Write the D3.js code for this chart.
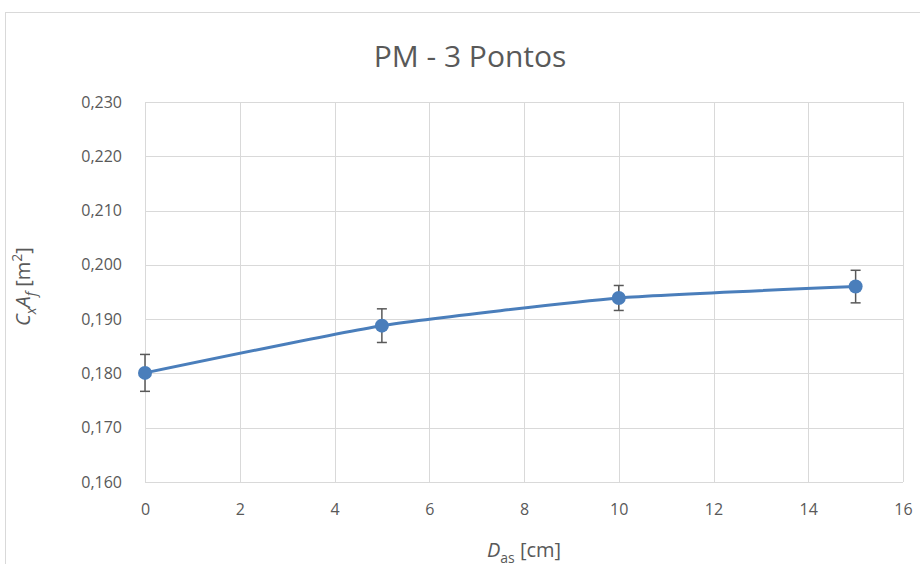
<!DOCTYPE html>
<html>
<head>
<meta charset="utf-8">
<script src="https://cdn.jsdelivr.net/npm/d3@7"></script>
<style>
  body { margin: 0; background: #fff; }
  text { font-family: "Open Sans", "Liberation Sans", sans-serif; fill: #595959; }
</style>
</head>
<body>
<div id="chart-area"></div>
<script>
var width = 920;
var height = 564;

// data
var distances = [0, 5, 10, 15];
var cxaf = [0.1801, 0.1888, 0.1939, 0.1960];
var errors = [0.0034, 0.0031, 0.0023, 0.0030];
var xTicks = [0, 2, 4, 6, 8, 10, 12, 14, 16];
var yTicks = [0.160, 0.170, 0.180, 0.190, 0.200, 0.210, 0.220, 0.230];

var margin = { left: 145, right: 17, top: 102, bottom: 82 };

var svg = d3.select("#chart-area")
  .append("svg")
  .attr("width", width)
  .attr("height", height);

// chart border
svg.append("rect")
  .attr("x", 5.5).attr("y", 12.5)
  .attr("width", 930).attr("height", 600)
  .attr("fill", "none")
  .attr("stroke", "#d9d9d9");

var x = d3.scaleLinear().domain([0, 16]).range([margin.left, width - margin.right]);
var y = d3.scaleLinear().domain([0.160, 0.230]).range([height - margin.bottom, margin.top]);

// gridlines
svg.selectAll(".vgrid")
  .data(xTicks)
  .enter().append("line")
  .attr("x1", function(d) { return Math.round(x(d)) + 0.5; })
  .attr("x2", function(d) { return Math.round(x(d)) + 0.5; })
  .attr("y1", y(0.230)).attr("y2", y(0.160))
  .attr("stroke", "#d9d9d9");

svg.selectAll(".hgrid")
  .data(yTicks)
  .enter().append("line")
  .attr("x1", x(0)).attr("x2", x(16))
  .attr("y1", function(d) { return Math.round(y(d)) + 0.5; })
  .attr("y2", function(d) { return Math.round(y(d)) + 0.5; })
  .attr("stroke", "#d9d9d9");

// axes
var fmt = function(d) { return d3.format(".3f")(d).replace(".", ","); };

var xAxis = svg.append("g")
  .attr("transform", "translate(0," + y(0.160) + ")")
  .call(d3.axisBottom(x).tickValues(xTicks).tickSize(0).tickPadding(22));
xAxis.select(".domain").remove();
xAxis.selectAll("text").style("font-size", "16px").attr("fill", "#595959");

var yAxis = svg.append("g")
  .attr("transform", "translate(" + x(0) + ",0)")
  .call(d3.axisLeft(y).tickValues(yTicks).tickFormat(fmt).tickSize(0).tickPadding(23));
yAxis.select(".domain").remove();
yAxis.selectAll("text").style("font-size", "16px").attr("fill", "#595959");

// title
svg.append("text")
  .attr("x", 470).attr("y", 67)
  .attr("text-anchor", "middle")
  .style("font-size", "30px")
  .text("PM - 3 Pontos");

// x axis title
var xt = svg.append("text")
  .attr("x", 524).attr("y", 557)
  .attr("text-anchor", "middle")
  .style("font-size", "20px");
xt.append("tspan").style("font-style", "italic").text("D");
xt.append("tspan").attr("dy", 6).style("font-size", "14px").text("as");
xt.append("tspan").attr("dy", -6).text(" [cm]");

// y axis title
var yt = svg.append("text")
  .attr("transform", "translate(30," + (y(0.196)) + ") rotate(-90)")
  .attr("text-anchor", "middle")
  .style("font-size", "20px");
yt.append("tspan").style("font-style", "italic").text("C");
yt.append("tspan").attr("dy", 6).style("font-size", "14px").style("font-style", "italic").text("x");
yt.append("tspan").attr("dy", -6).style("font-style", "italic").text("A");
yt.append("tspan").attr("dy", 6).style("font-size", "14px").style("font-style", "italic").text("f");
yt.append("tspan").attr("dy", -6).text(" [m");
yt.append("tspan").attr("dy", -8).style("font-size", "14px").text("2");
yt.append("tspan").attr("dy", 8).text("]");

var points = distances.map(function(d, i) {
  return { x: d, y: cxaf[i], e: errors[i] };
});

// line
var line = d3.line()
  .x(function(d) { return x(d.x); })
  .y(function(d) { return y(d.y); })
  .curve(d3.curveCardinal.tension(0.5));

svg.append("path")
  .datum(points)
  .attr("d", line)
  .attr("fill", "none")
  .attr("stroke", "#4a7ebb")
  .attr("stroke-width", 3);

// error bars
var eb = svg.selectAll(".err")
  .data(points)
  .enter().append("g")
  .attr("stroke", "#595959")
  .attr("stroke-width", 1.5);

eb.append("line")
  .attr("x1", function(d) { return x(d.x); })
  .attr("x2", function(d) { return x(d.x); })
  .attr("y1", function(d) { return y(d.y + d.e); })
  .attr("y2", function(d) { return y(d.y - d.e); });
eb.append("line")
  .attr("x1", function(d) { return x(d.x) - 5; })
  .attr("x2", function(d) { return x(d.x) + 5; })
  .attr("y1", function(d) { return y(d.y + d.e); })
  .attr("y2", function(d) { return y(d.y + d.e); });
eb.append("line")
  .attr("x1", function(d) { return x(d.x) - 5; })
  .attr("x2", function(d) { return x(d.x) + 5; })
  .attr("y1", function(d) { return y(d.y - d.e); })
  .attr("y2", function(d) { return y(d.y - d.e); });

// markers
svg.selectAll(".pt")
  .data(points)
  .enter().append("circle")
  .attr("cx", function(d) { return x(d.x); })
  .attr("cy", function(d) { return y(d.y); })
  .attr("r", 7)
  .attr("fill", "#4a7ebb");
</script>
</body>
</html>
